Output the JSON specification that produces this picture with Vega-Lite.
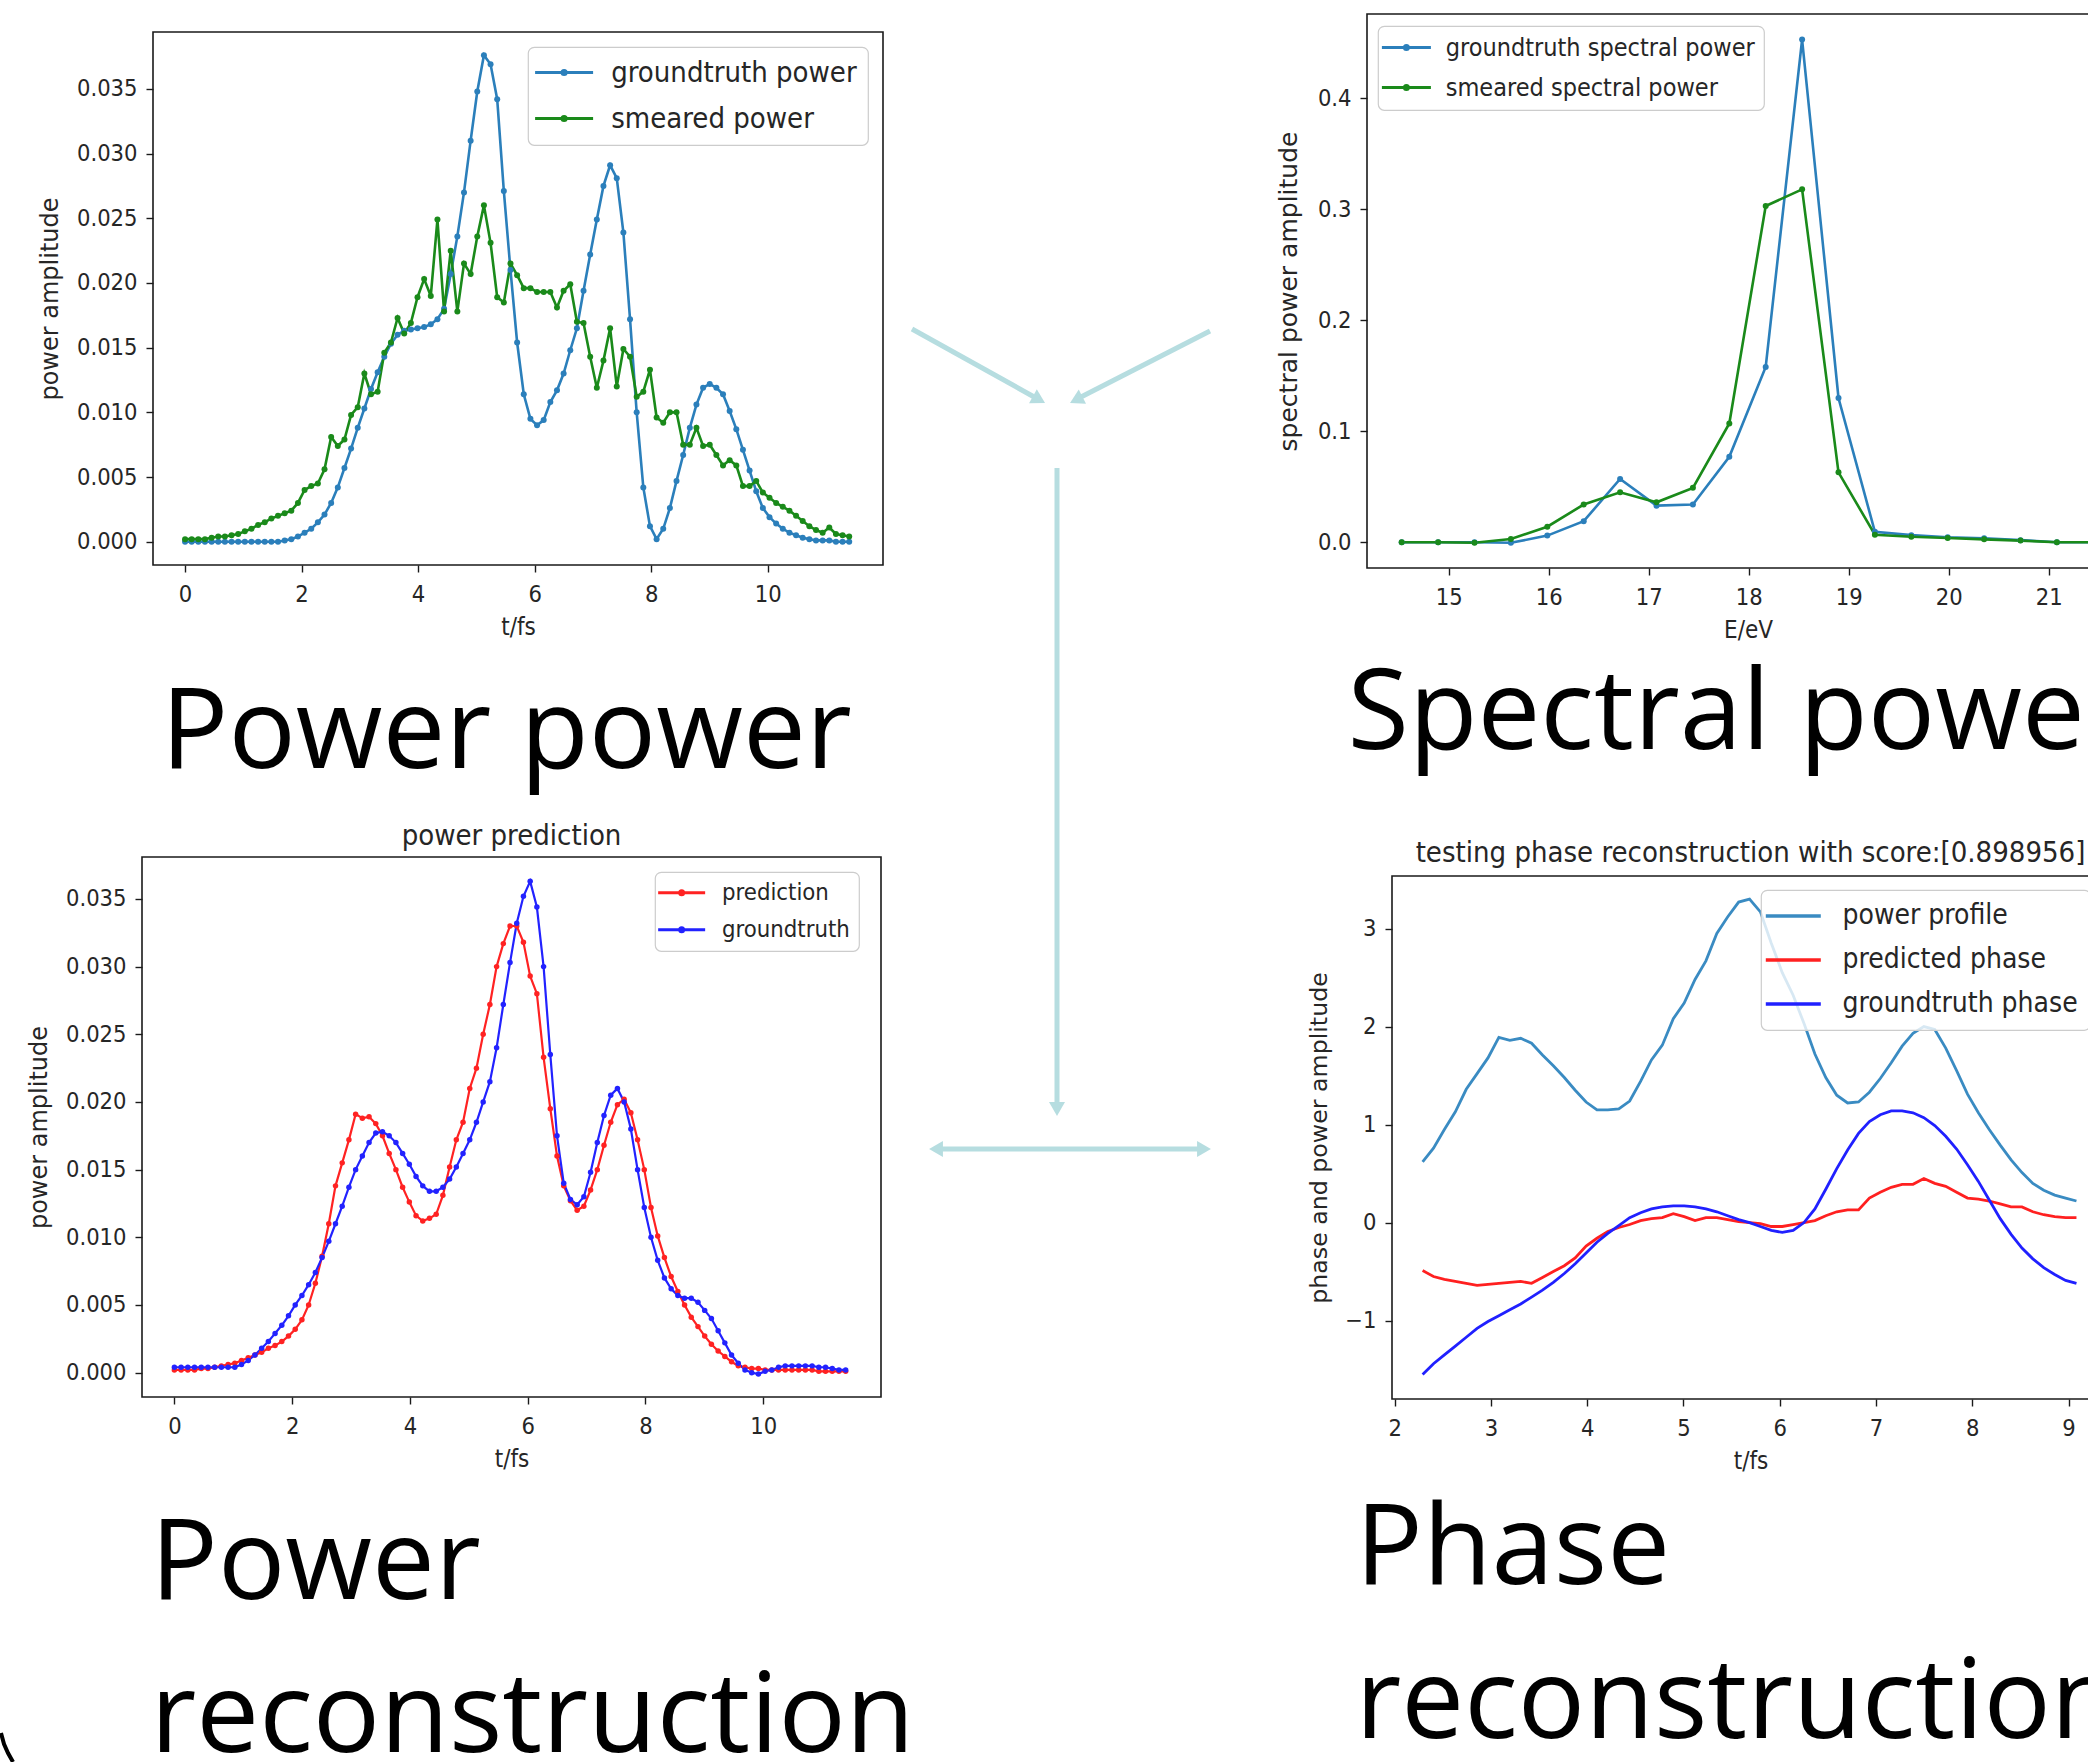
{
"$schema": "https://vega.github.io/schema/vega-lite/v6.json",
"background": "white",
"padding": 0,
"spacing": 0,
"bounds": "flush",
"config": {
  "view": {"stroke": "#1a1a1a", "strokeWidth": 1.6},
  "axis": {"domain": false, "grid": false, "tickColor": "#1a1a1a", "tickSize": 7, "tickWidth": 1.4, "labelFont": "DejaVu Sans Condensed, DejaVu Sans", "labelFontSize": 23.5, "labelColor": "#262626", "labelFlush": false, "labelOverlap": false, "titleFont": "DejaVu Sans", "titleFontSize": 24, "titleFontWeight": "normal", "titleColor": "#262626"},
  "axisX": {"labelPadding": 10, "titlePadding": 10, "titleFont": "DejaVu Sans Condensed, DejaVu Sans"},
  "axisY": {"labelPadding": 9, "titlePadding": 14},
  "legend": {"labelFont": "DejaVu Sans Condensed, DejaVu Sans", "labelColor": "#262626", "labelLimit": 800, "strokeColor": "#cccccc", "strokeWidth": 1.2, "fillColor": "rgba(255,255,255,0.8)", "cornerRadius": 6},
  "title": {"fontWeight": "normal", "color": "#000000"}
},
"datasets": {
  "pw": [
{"t":0,"groundtruth power":0,"smeared power":0.0002,"prediction":0.0002,"groundtruth":0.0004},
{"t":0.114,"groundtruth power":0,"smeared power":0.0002,"prediction":0.0002,"groundtruth":0.0004},
{"t":0.228,"groundtruth power":0,"smeared power":0.0002,"prediction":0.0002,"groundtruth":0.0004},
{"t":0.342,"groundtruth power":0,"smeared power":0.0002,"prediction":0.0002,"groundtruth":0.0004},
{"t":0.456,"groundtruth power":0,"smeared power":0.0003,"prediction":0.0003,"groundtruth":0.0004},
{"t":0.57,"groundtruth power":0,"smeared power":0.0004,"prediction":0.0003,"groundtruth":0.0004},
{"t":0.684,"groundtruth power":0,"smeared power":0.0004,"prediction":0.0004,"groundtruth":0.0004},
{"t":0.798,"groundtruth power":0,"smeared power":0.0005,"prediction":0.0005,"groundtruth":0.0004},
{"t":0.912,"groundtruth power":0,"smeared power":0.0006,"prediction":0.0006,"groundtruth":0.0004},
{"t":1.026,"groundtruth power":0,"smeared power":0.0008,"prediction":0.0007,"groundtruth":0.0004},
{"t":1.14,"groundtruth power":0,"smeared power":0.001,"prediction":0.0009,"groundtruth":0.0006},
{"t":1.254,"groundtruth power":0,"smeared power":0.0013,"prediction":0.0011,"groundtruth":0.0009},
{"t":1.368,"groundtruth power":0,"smeared power":0.0015,"prediction":0.0013,"groundtruth":0.0013},
{"t":1.482,"groundtruth power":0,"smeared power":0.0018,"prediction":0.0015,"groundtruth":0.0018},
{"t":1.596,"groundtruth power":0,"smeared power":0.002,"prediction":0.0018,"groundtruth":0.0023},
{"t":1.71,"groundtruth power":0.0001,"smeared power":0.0022,"prediction":0.002,"groundtruth":0.0029},
{"t":1.824,"groundtruth power":0.0002,"smeared power":0.0024,"prediction":0.0023,"groundtruth":0.0035},
{"t":1.938,"groundtruth power":0.0004,"smeared power":0.003,"prediction":0.0027,"groundtruth":0.0042},
{"t":2.052,"groundtruth power":0.0007,"smeared power":0.004,"prediction":0.0032,"groundtruth":0.005},
{"t":2.166,"groundtruth power":0.001,"smeared power":0.0043,"prediction":0.0039,"groundtruth":0.0057},
{"t":2.28,"groundtruth power":0.0015,"smeared power":0.0045,"prediction":0.005,"groundtruth":0.0065},
{"t":2.394,"groundtruth power":0.0021,"smeared power":0.0056,"prediction":0.0066,"groundtruth":0.0074},
{"t":2.508,"groundtruth power":0.003,"smeared power":0.0081,"prediction":0.0086,"groundtruth":0.0085},
{"t":2.622,"groundtruth power":0.0042,"smeared power":0.0074,"prediction":0.011,"groundtruth":0.0097},
{"t":2.736,"groundtruth power":0.0057,"smeared power":0.0079,"prediction":0.0138,"groundtruth":0.011},
{"t":2.85,"groundtruth power":0.0072,"smeared power":0.0098,"prediction":0.0155,"groundtruth":0.0123},
{"t":2.964,"groundtruth power":0.0088,"smeared power":0.0104,"prediction":0.0172,"groundtruth":0.0137},
{"t":3.078,"groundtruth power":0.0103,"smeared power":0.013,"prediction":0.0191,"groundtruth":0.015},
{"t":3.192,"groundtruth power":0.0118,"smeared power":0.0114,"prediction":0.0188,"groundtruth":0.016},
{"t":3.306,"groundtruth power":0.0131,"smeared power":0.0116,"prediction":0.0189,"groundtruth":0.017},
{"t":3.42,"groundtruth power":0.0143,"smeared power":0.0146,"prediction":0.0184,"groundtruth":0.0177},
{"t":3.534,"groundtruth power":0.0153,"smeared power":0.0154,"prediction":0.0175,"groundtruth":0.0178},
{"t":3.648,"groundtruth power":0.016,"smeared power":0.0173,"prediction":0.0162,"groundtruth":0.0175},
{"t":3.762,"groundtruth power":0.0163,"smeared power":0.0161,"prediction":0.015,"groundtruth":0.017},
{"t":3.876,"groundtruth power":0.0164,"smeared power":0.0169,"prediction":0.0137,"groundtruth":0.0162},
{"t":3.99,"groundtruth power":0.0165,"smeared power":0.0189,"prediction":0.0126,"groundtruth":0.0154},
{"t":4.104,"groundtruth power":0.0166,"smeared power":0.0203,"prediction":0.0116,"groundtruth":0.0145},
{"t":4.218,"groundtruth power":0.0168,"smeared power":0.019,"prediction":0.0112,"groundtruth":0.0138},
{"t":4.332,"groundtruth power":0.0172,"smeared power":0.0249,"prediction":0.0114,"groundtruth":0.0134},
{"t":4.446,"groundtruth power":0.018,"smeared power":0.0178,"prediction":0.0117,"groundtruth":0.0134},
{"t":4.56,"groundtruth power":0.0207,"smeared power":0.0225,"prediction":0.0131,"groundtruth":0.0137},
{"t":4.674,"groundtruth power":0.0236,"smeared power":0.0178,"prediction":0.0152,"groundtruth":0.0143},
{"t":4.788,"groundtruth power":0.027,"smeared power":0.0215,"prediction":0.0172,"groundtruth":0.0152},
{"t":4.902,"groundtruth power":0.031,"smeared power":0.0207,"prediction":0.0185,"groundtruth":0.0162},
{"t":5.016,"groundtruth power":0.0348,"smeared power":0.0236,"prediction":0.021,"groundtruth":0.0172},
{"t":5.13,"groundtruth power":0.0376,"smeared power":0.026,"prediction":0.0225,"groundtruth":0.0185},
{"t":5.244,"groundtruth power":0.0369,"smeared power":0.0231,"prediction":0.025,"groundtruth":0.02},
{"t":5.358,"groundtruth power":0.0342,"smeared power":0.0189,"prediction":0.0272,"groundtruth":0.0215},
{"t":5.472,"groundtruth power":0.0271,"smeared power":0.0185,"prediction":0.03,"groundtruth":0.024},
{"t":5.586,"groundtruth power":0.021,"smeared power":0.0215,"prediction":0.0317,"groundtruth":0.0272},
{"t":5.7,"groundtruth power":0.0154,"smeared power":0.0206,"prediction":0.033,"groundtruth":0.0303},
{"t":5.814,"groundtruth power":0.0114,"smeared power":0.0196,"prediction":0.033,"groundtruth":0.0332},
{"t":5.928,"groundtruth power":0.0095,"smeared power":0.0196,"prediction":0.0318,"groundtruth":0.0352},
{"t":6.042,"groundtruth power":0.009,"smeared power":0.0193,"prediction":0.0293,"groundtruth":0.0363},
{"t":6.156,"groundtruth power":0.0094,"smeared power":0.0193,"prediction":0.028,"groundtruth":0.0344},
{"t":6.27,"groundtruth power":0.0108,"smeared power":0.0193,"prediction":0.0233,"groundtruth":0.03},
{"t":6.384,"groundtruth power":0.0117,"smeared power":0.0181,"prediction":0.0195,"groundtruth":0.0235},
{"t":6.498,"groundtruth power":0.013,"smeared power":0.0194,"prediction":0.016,"groundtruth":0.0175},
{"t":6.612,"groundtruth power":0.0148,"smeared power":0.0199,"prediction":0.0138,"groundtruth":0.014},
{"t":6.726,"groundtruth power":0.0165,"smeared power":0.017,"prediction":0.0127,"groundtruth":0.0128},
{"t":6.84,"groundtruth power":0.0194,"smeared power":0.0169,"prediction":0.012,"groundtruth":0.0124},
{"t":6.954,"groundtruth power":0.0222,"smeared power":0.0143,"prediction":0.0123,"groundtruth":0.013},
{"t":7.068,"groundtruth power":0.0249,"smeared power":0.0119,"prediction":0.0135,"groundtruth":0.0148},
{"t":7.182,"groundtruth power":0.0275,"smeared power":0.014,"prediction":0.015,"groundtruth":0.017},
{"t":7.296,"groundtruth power":0.0291,"smeared power":0.0165,"prediction":0.0168,"groundtruth":0.019},
{"t":7.41,"groundtruth power":0.0281,"smeared power":0.012,"prediction":0.0185,"groundtruth":0.0205},
{"t":7.524,"groundtruth power":0.0239,"smeared power":0.0149,"prediction":0.0198,"groundtruth":0.021},
{"t":7.638,"groundtruth power":0.0172,"smeared power":0.0143,"prediction":0.0202,"groundtruth":0.02},
{"t":7.752,"groundtruth power":0.01,"smeared power":0.0112,"prediction":0.0192,"groundtruth":0.018},
{"t":7.866,"groundtruth power":0.0042,"smeared power":0.0116,"prediction":0.0172,"groundtruth":0.015},
{"t":7.98,"groundtruth power":0.0012,"smeared power":0.0133,"prediction":0.015,"groundtruth":0.0122},
{"t":8.094,"groundtruth power":0.0002,"smeared power":0.0096,"prediction":0.0122,"groundtruth":0.01},
{"t":8.208,"groundtruth power":0.001,"smeared power":0.0092,"prediction":0.0101,"groundtruth":0.0083},
{"t":8.322,"groundtruth power":0.0026,"smeared power":0.01,"prediction":0.0085,"groundtruth":0.007},
{"t":8.436,"groundtruth power":0.0047,"smeared power":0.01,"prediction":0.0071,"groundtruth":0.0062},
{"t":8.55,"groundtruth power":0.0067,"smeared power":0.0075,"prediction":0.006,"groundtruth":0.0057},
{"t":8.664,"groundtruth power":0.0088,"smeared power":0.0075,"prediction":0.005,"groundtruth":0.0055},
{"t":8.778,"groundtruth power":0.0106,"smeared power":0.0088,"prediction":0.0041,"groundtruth":0.0055},
{"t":8.892,"groundtruth power":0.0119,"smeared power":0.0074,"prediction":0.0034,"groundtruth":0.0052},
{"t":9.006,"groundtruth power":0.0122,"smeared power":0.0075,"prediction":0.0027,"groundtruth":0.0046},
{"t":9.12,"groundtruth power":0.0119,"smeared power":0.0067,"prediction":0.0021,"groundtruth":0.004},
{"t":9.234,"groundtruth power":0.0114,"smeared power":0.0059,"prediction":0.0016,"groundtruth":0.0031},
{"t":9.348,"groundtruth power":0.0101,"smeared power":0.0063,"prediction":0.0012,"groundtruth":0.0022},
{"t":9.462,"groundtruth power":0.0087,"smeared power":0.0059,"prediction":0.0008,"groundtruth":0.0013},
{"t":9.576,"groundtruth power":0.0071,"smeared power":0.0043,"prediction":0.0005,"groundtruth":0.0007},
{"t":9.69,"groundtruth power":0.0055,"smeared power":0.0043,"prediction":0.0004,"groundtruth":0.0002},
{"t":9.804,"groundtruth power":0.0039,"smeared power":0.0047,"prediction":0.0003,"groundtruth":0},
{"t":9.918,"groundtruth power":0.0026,"smeared power":0.0038,"prediction":0.0003,"groundtruth":-0.0001},
{"t":10.032,"groundtruth power":0.0019,"smeared power":0.0034,"prediction":0.0002,"groundtruth":0.0001},
{"t":10.146,"groundtruth power":0.0014,"smeared power":0.003,"prediction":0.0002,"groundtruth":0.0002},
{"t":10.26,"groundtruth power":0.001,"smeared power":0.0027,"prediction":0.0002,"groundtruth":0.0004},
{"t":10.374,"groundtruth power":0.0007,"smeared power":0.0024,"prediction":0.0002,"groundtruth":0.0005},
{"t":10.488,"groundtruth power":0.0005,"smeared power":0.002,"prediction":0.0002,"groundtruth":0.0005},
{"t":10.602,"groundtruth power":0.0003,"smeared power":0.0016,"prediction":0.0002,"groundtruth":0.0005},
{"t":10.716,"groundtruth power":0.0002,"smeared power":0.0012,"prediction":0.0002,"groundtruth":0.0005},
{"t":10.83,"groundtruth power":0.0001,"smeared power":0.0009,"prediction":0.0002,"groundtruth":0.0005},
{"t":10.944,"groundtruth power":0.0001,"smeared power":0.0007,"prediction":0.0001,"groundtruth":0.0004},
{"t":11.058,"groundtruth power":0.0001,"smeared power":0.0011,"prediction":0.0001,"groundtruth":0.0004},
{"t":11.172,"groundtruth power":0,"smeared power":0.0006,"prediction":0.0001,"groundtruth":0.0003},
{"t":11.286,"groundtruth power":0,"smeared power":0.0005,"prediction":0.0001,"groundtruth":0.0002},
{"t":11.4,"groundtruth power":0,"smeared power":0.0004,"prediction":0.0001,"groundtruth":0.0002}
  ],
  "sp": [
{"E":14.53,"groundtruth spectral power":0,"smeared spectral power":0},
{"E":14.894,"groundtruth spectral power":0,"smeared spectral power":0},
{"E":15.258,"groundtruth spectral power":0,"smeared spectral power":-0.0005},
{"E":15.622,"groundtruth spectral power":-0.0005,"smeared spectral power":0.003},
{"E":15.986,"groundtruth spectral power":0.006,"smeared spectral power":0.014},
{"E":16.35,"groundtruth spectral power":0.019,"smeared spectral power":0.034},
{"E":16.714,"groundtruth spectral power":0.057,"smeared spectral power":0.045},
{"E":17.078,"groundtruth spectral power":0.033,"smeared spectral power":0.036},
{"E":17.442,"groundtruth spectral power":0.034,"smeared spectral power":0.049},
{"E":17.806,"groundtruth spectral power":0.077,"smeared spectral power":0.107},
{"E":18.17,"groundtruth spectral power":0.158,"smeared spectral power":0.303},
{"E":18.534,"groundtruth spectral power":0.453,"smeared spectral power":0.318},
{"E":18.898,"groundtruth spectral power":0.13,"smeared spectral power":0.063},
{"E":19.262,"groundtruth spectral power":0.0094,"smeared spectral power":0.0068},
{"E":19.626,"groundtruth spectral power":0.0064,"smeared spectral power":0.005},
{"E":19.99,"groundtruth spectral power":0.0045,"smeared spectral power":0.0038},
{"E":20.354,"groundtruth spectral power":0.0036,"smeared spectral power":0.0026},
{"E":20.718,"groundtruth spectral power":0.0019,"smeared spectral power":0.0015},
{"E":21.082,"groundtruth spectral power":0,"smeared spectral power":0},
{"E":21.446,"groundtruth spectral power":0,"smeared spectral power":0}
  ],
  "ph": [
{"t":2.29,"power profile":0.62,"predicted phase":-0.49,"groundtruth phase":-1.55},
{"t":2.403,"power profile":0.76,"predicted phase":-0.55,"groundtruth phase":-1.44},
{"t":2.516,"power profile":0.95,"predicted phase":-0.58,"groundtruth phase":-1.35},
{"t":2.63,"power profile":1.13,"predicted phase":-0.6,"groundtruth phase":-1.26},
{"t":2.743,"power profile":1.36,"predicted phase":-0.62,"groundtruth phase":-1.17},
{"t":2.856,"power profile":1.52,"predicted phase":-0.64,"groundtruth phase":-1.08},
{"t":2.969,"power profile":1.68,"predicted phase":-0.63,"groundtruth phase":-1.01},
{"t":3.082,"power profile":1.89,"predicted phase":-0.62,"groundtruth phase":-0.95},
{"t":3.196,"power profile":1.86,"predicted phase":-0.61,"groundtruth phase":-0.89},
{"t":3.309,"power profile":1.88,"predicted phase":-0.6,"groundtruth phase":-0.83},
{"t":3.422,"power profile":1.83,"predicted phase":-0.62,"groundtruth phase":-0.76},
{"t":3.535,"power profile":1.71,"predicted phase":-0.56,"groundtruth phase":-0.69},
{"t":3.648,"power profile":1.6,"predicted phase":-0.5,"groundtruth phase":-0.61},
{"t":3.762,"power profile":1.48,"predicted phase":-0.44,"groundtruth phase":-0.52},
{"t":3.875,"power profile":1.35,"predicted phase":-0.36,"groundtruth phase":-0.42},
{"t":3.988,"power profile":1.23,"predicted phase":-0.24,"groundtruth phase":-0.31},
{"t":4.101,"power profile":1.15,"predicted phase":-0.16,"groundtruth phase":-0.2},
{"t":4.214,"power profile":1.15,"predicted phase":-0.09,"groundtruth phase":-0.11},
{"t":4.328,"power profile":1.16,"predicted phase":-0.05,"groundtruth phase":-0.03},
{"t":4.441,"power profile":1.24,"predicted phase":-0.02,"groundtruth phase":0.05},
{"t":4.554,"power profile":1.44,"predicted phase":0.02,"groundtruth phase":0.1},
{"t":4.667,"power profile":1.66,"predicted phase":0.04,"groundtruth phase":0.14},
{"t":4.78,"power profile":1.81,"predicted phase":0.05,"groundtruth phase":0.16},
{"t":4.894,"power profile":2.08,"predicted phase":0.09,"groundtruth phase":0.17},
{"t":5.007,"power profile":2.24,"predicted phase":0.06,"groundtruth phase":0.17},
{"t":5.12,"power profile":2.48,"predicted phase":0.02,"groundtruth phase":0.16},
{"t":5.233,"power profile":2.67,"predicted phase":0.05,"groundtruth phase":0.14},
{"t":5.346,"power profile":2.95,"predicted phase":0.05,"groundtruth phase":0.11},
{"t":5.46,"power profile":3.12,"predicted phase":0.03,"groundtruth phase":0.07},
{"t":5.573,"power profile":3.27,"predicted phase":0.01,"groundtruth phase":0.03},
{"t":5.686,"power profile":3.3,"predicted phase":0,"groundtruth phase":0},
{"t":5.799,"power profile":3.17,"predicted phase":-0.01,"groundtruth phase":-0.04},
{"t":5.912,"power profile":2.85,"predicted phase":-0.04,"groundtruth phase":-0.08},
{"t":6.026,"power profile":2.55,"predicted phase":-0.04,"groundtruth phase":-0.1},
{"t":6.139,"power profile":2.32,"predicted phase":-0.02,"groundtruth phase":-0.08},
{"t":6.252,"power profile":2.03,"predicted phase":0,"groundtruth phase":0},
{"t":6.365,"power profile":1.72,"predicted phase":0.02,"groundtruth phase":0.14},
{"t":6.478,"power profile":1.48,"predicted phase":0.07,"groundtruth phase":0.34},
{"t":6.592,"power profile":1.3,"predicted phase":0.11,"groundtruth phase":0.55},
{"t":6.705,"power profile":1.22,"predicted phase":0.13,"groundtruth phase":0.74},
{"t":6.818,"power profile":1.23,"predicted phase":0.13,"groundtruth phase":0.91},
{"t":6.931,"power profile":1.33,"predicted phase":0.25,"groundtruth phase":1.03},
{"t":7.044,"power profile":1.47,"predicted phase":0.31,"groundtruth phase":1.1},
{"t":7.158,"power profile":1.63,"predicted phase":0.36,"groundtruth phase":1.14},
{"t":7.271,"power profile":1.8,"predicted phase":0.39,"groundtruth phase":1.14},
{"t":7.384,"power profile":1.93,"predicted phase":0.39,"groundtruth phase":1.12},
{"t":7.497,"power profile":2,"predicted phase":0.45,"groundtruth phase":1.07},
{"t":7.61,"power profile":1.97,"predicted phase":0.4,"groundtruth phase":0.99},
{"t":7.724,"power profile":1.78,"predicted phase":0.37,"groundtruth phase":0.88},
{"t":7.837,"power profile":1.55,"predicted phase":0.31,"groundtruth phase":0.75},
{"t":7.95,"power profile":1.31,"predicted phase":0.25,"groundtruth phase":0.59},
{"t":8.063,"power profile":1.12,"predicted phase":0.24,"groundtruth phase":0.42},
{"t":8.176,"power profile":0.95,"predicted phase":0.22,"groundtruth phase":0.23},
{"t":8.29,"power profile":0.79,"predicted phase":0.19,"groundtruth phase":0.04},
{"t":8.403,"power profile":0.64,"predicted phase":0.16,"groundtruth phase":-0.12},
{"t":8.516,"power profile":0.51,"predicted phase":0.16,"groundtruth phase":-0.26},
{"t":8.629,"power profile":0.4,"predicted phase":0.11,"groundtruth phase":-0.37},
{"t":8.742,"power profile":0.33,"predicted phase":0.08,"groundtruth phase":-0.46},
{"t":8.856,"power profile":0.28,"predicted phase":0.06,"groundtruth phase":-0.53},
{"t":8.969,"power profile":0.25,"predicted phase":0.05,"groundtruth phase":-0.59},
{"t":9.082,"power profile":0.22,"predicted phase":0.05,"groundtruth phase":-0.62}
  ]
},
"resolve": {"scale": {"color": "independent"}, "legend": {"color": "independent"}},
"hconcat": [
  {"width": 142, "height": 1762, "view": {"stroke": null},
   "data": {"values": [{"ax": 1, "ay": 1733}, {"ax": 4, "ay": 1744}, {"ax": 8, "ay": 1753}, {"ax": 13, "ay": 1762}]},
   "mark": {"type": "line", "color": "#000000", "strokeWidth": 4, "clip": true},
   "encoding": {
     "x": {"field": "ax", "type": "quantitative", "scale": {"domain": [0, 142], "nice": false, "zero": false}, "axis": null},
     "y": {"field": "ay", "type": "quantitative", "scale": {"domain": [0, 1762], "nice": false, "zero": false, "reverse": true}, "axis": null}
   }},
  {"spacing": 0, "bounds": "flush",
   "resolve": {"scale": {"color": "independent"}, "legend": {"color": "independent"}},
   "vconcat": [
     {"width": 1, "height": 32, "view": {"stroke": null}, "data": {"values": []}, "mark": "point"},
     {"spacing": 0, "bounds": "flush",
      "resolve": {"scale": {"color": "independent"}, "legend": {"color": "independent"}},
      "hconcat": [
        {"width": 11, "height": 533, "view": {"stroke": null}, "data": {"values": []}, "mark": "point"},
        {"width": 730, "height": 533,
         "data": {"name": "pw"},
         "transform": [{"fold": ["groundtruth power", "smeared power"], "as": ["series", "value"]}],
         "title": {"text": "Power power", "orient": "bottom", "anchor": "start", "frame": "group", "font": "Open Sans", "fontSize": 112, "fontWeight": "normal", "color": "#000000", "offset": 40, "dx": 8},
         "encoding": {
           "x": {"field": "t", "type": "quantitative", "scale": {"domain": [-0.55, 11.98], "nice": false, "zero": false}, "axis": {"values": [0, 2, 4, 6, 8, 10], "title": "t/fs"}},
           "y": {"field": "value", "type": "quantitative", "scale": {"domain": [-0.0018, 0.0394], "nice": false, "zero": false}, "axis": {"values": [0, 0.005, 0.01, 0.015, 0.02, 0.025, 0.03, 0.035], "format": ".3f", "title": "power amplitude"}},
           "color": {"field": "series", "type": "nominal",
             "scale": {"domain": ["groundtruth power", "smeared power"], "range": ["#2b7fbb", "#1a8a1a"]},
             "legend": {"title": null, "orient": "none", "legendX": 375, "legendY": 15, "padding": 11,
               "symbolType": "M-2.9,0H2.9M0.2,0A0.2,0.2,0,1,1,-0.2,0A0.2,0.2,0,1,1,0.2,0",
               "symbolSize": 400, "symbolStrokeWidth": 3.2, "symbolOffset": 10.6, "labelOffset": 32.6, "labelFontSize": 29, "rowPadding": 16}}
         },
         "layer": [
           {"mark": {"type": "line", "strokeWidth": 2.6}},
           {"mark": {"type": "point", "filled": true, "size": 36, "opacity": 1}}
         ]}
      ]},
     {"width": 1, "height": 825, "view": {"stroke": null}, "data": {"values": []}, "mark": "point"},
     {"spacing": 0, "bounds": "flush",
      "resolve": {"scale": {"color": "independent"}, "legend": {"color": "independent"}},
      "title": {"text": ["Power", "reconstruction"], "orient": "bottom", "anchor": "start", "frame": "group", "font": "Open Sans", "fontSize": 112, "fontWeight": "normal", "color": "#000000", "lineHeight": 153, "offset": 39, "dx": 8.5},
      "vconcat": [
        {"width": 739, "height": 540,
         "data": {"name": "pw"},
         "transform": [{"fold": ["prediction", "groundtruth"], "as": ["series", "value"]}],
         "title": {"text": "power prediction", "orient": "top", "anchor": "middle", "frame": "group", "font": "DejaVu Sans Condensed, DejaVu Sans", "fontSize": 29, "fontWeight": "normal", "color": "#262626", "offset": 6},
         "encoding": {
           "x": {"field": "t", "type": "quantitative", "scale": {"domain": [-0.55, 12.0], "nice": false, "zero": false}, "axis": {"values": [0, 2, 4, 6, 8, 10], "title": "t/fs"}},
           "y": {"field": "value", "type": "quantitative", "scale": {"domain": [-0.0018, 0.0381], "nice": false, "zero": false}, "axis": {"values": [0, 0.005, 0.01, 0.015, 0.02, 0.025, 0.03, 0.035], "format": ".3f", "title": "power amplitude"}},
           "color": {"field": "series", "type": "nominal",
             "scale": {"domain": ["prediction", "groundtruth"], "range": ["#ff2222", "#2222ff"]},
             "legend": {"title": null, "orient": "none", "legendX": 513, "legendY": 15, "padding": 9,
               "symbolType": "M-2.35,0H2.35M0.2,0A0.2,0.2,0,1,1,-0.2,0A0.2,0.2,0,1,1,0.2,0",
               "symbolSize": 400, "symbolStrokeWidth": 3, "symbolOffset": 5.8, "labelOffset": 28.5, "labelFontSize": 23.7, "rowPadding": 12}}
         },
         "layer": [
           {"mark": {"type": "line", "strokeWidth": 2.2}},
           {"mark": {"type": "point", "filled": true, "size": 30, "opacity": 1}}
         ]}
      ]}
   ]},
  {"width": 741, "height": 1, "view": {"stroke": null}, "data": {"values": []}, "mark": "point"},
  {"width": 484, "height": 1762, "view": {"stroke": null},
   "layer": [
     {"data": {"values": [
        {"x": 912, "y": 329, "x2": 1036, "y2": 398},
        {"x": 1210, "y": 331, "x2": 1079, "y2": 398},
        {"x": 1057, "y": 468, "x2": 1057, "y2": 1106},
        {"x": 939, "y": 1149, "x2": 1201, "y2": 1149}]},
      "mark": {"type": "rule", "color": "#b6dde0", "strokeWidth": 5},
      "encoding": {
        "x": {"field": "x", "type": "quantitative", "scale": {"domain": [883, 1367], "nice": false, "zero": false}, "axis": null},
        "y": {"field": "y", "type": "quantitative", "scale": {"domain": [0, 1762], "nice": false, "zero": false, "reverse": true}, "axis": null},
        "x2": {"field": "x2"},
        "y2": {"field": "y2"}
      }},
     {"data": {"values": [
        {"x": 1039, "y": 399.6, "a": 119},
        {"x": 1076.2, "y": 399.8, "a": 243},
        {"x": 1057, "y": 1109, "a": 180},
        {"x": 1204, "y": 1149, "a": 90},
        {"x": 936, "y": 1149, "a": 270}]},
      "mark": {"type": "point", "shape": "triangle-up", "filled": true, "color": "#b6dde0", "size": 256, "opacity": 1, "strokeWidth": 0},
      "encoding": {
        "x": {"field": "x", "type": "quantitative", "scale": {"domain": [883, 1367], "nice": false, "zero": false}, "axis": null},
        "y": {"field": "y", "type": "quantitative", "scale": {"domain": [0, 1762], "nice": false, "zero": false, "reverse": true}, "axis": null},
        "angle": {"field": "a", "type": "quantitative", "scale": null}
      }}
   ]},
  {"spacing": 0, "bounds": "flush",
   "resolve": {"scale": {"color": "independent"}, "legend": {"color": "independent"}},
   "vconcat": [
     {"width": 1, "height": 14, "view": {"stroke": null}, "data": {"values": []}, "mark": "point"},
     {"width": 762, "height": 554,
      "data": {"name": "sp"},
      "transform": [{"fold": ["groundtruth spectral power", "smeared spectral power"], "as": ["series", "value"]}],
      "title": {"text": "Spectral power", "orient": "bottom", "anchor": "start", "frame": "group", "font": "Open Sans", "fontSize": 112, "fontWeight": "normal", "color": "#000000", "offset": 18, "dx": -19.5},
      "encoding": {
        "x": {"field": "E", "type": "quantitative", "scale": {"domain": [14.183, 21.803], "nice": false, "zero": false}, "axis": {"values": [15, 16, 17, 18, 19, 20, 21], "title": "E/eV"}},
        "y": {"field": "value", "type": "quantitative", "scale": {"domain": [-0.0232, 0.476], "nice": false, "zero": false}, "axis": {"values": [0, 0.1, 0.2, 0.3, 0.4], "format": ".1f", "title": "spectral power amplitude", "titleFontSize": 25, "titlePadding": 16}},
        "color": {"field": "series", "type": "nominal",
          "scale": {"domain": ["groundtruth spectral power", "smeared spectral power"], "range": ["#2b7fbb", "#1a8a1a"]},
          "legend": {"title": null, "orient": "none", "legendX": 11, "legendY": 12, "padding": 9,
            "symbolType": "M-2.45,0H2.45M0.2,0A0.2,0.2,0,1,1,-0.2,0A0.2,0.2,0,1,1,0.2,0",
            "symbolSize": 400, "symbolStrokeWidth": 3, "symbolOffset": 6.9, "labelOffset": 26.8, "labelFontSize": 25, "rowPadding": 14}}
      },
      "layer": [
        {"mark": {"type": "line", "strokeWidth": 2.6}},
        {"mark": {"type": "point", "filled": true, "size": 36, "opacity": 1}}
      ]},
     {"width": 1, "height": 308, "view": {"stroke": null}, "data": {"values": []}, "mark": "point"},
     {"spacing": 0, "bounds": "flush",
      "resolve": {"scale": {"color": "independent"}, "legend": {"color": "independent"}},
      "title": {"text": ["Phase", "reconstruction"], "orient": "bottom", "anchor": "start", "frame": "group", "font": "Open Sans", "fontSize": 112, "fontWeight": "normal", "color": "#000000", "lineHeight": 154, "offset": 22, "dx": -11.5},
      "hconcat": [
        {"width": 25, "height": 523, "view": {"stroke": null}, "data": {"values": []}, "mark": "point"},
        {"width": 717, "height": 523,
         "data": {"name": "ph"},
         "transform": [{"fold": ["power profile", "predicted phase", "groundtruth phase"], "as": ["series", "value"]}],
         "title": {"text": "testing phase reconstruction with score:[0.898956]", "orient": "top", "anchor": "middle", "frame": "group", "font": "DejaVu Sans Condensed, DejaVu Sans", "fontSize": 29, "fontWeight": "normal", "color": "#262626", "offset": 8},
         "mark": {"type": "line", "strokeWidth": 2.8},
         "encoding": {
           "x": {"field": "t", "type": "quantitative", "scale": {"domain": [1.972, 9.42], "nice": false, "zero": false}, "axis": {"values": [2, 3, 4, 5, 6, 7, 8, 9], "title": "t/fs"}},
           "y": {"field": "value", "type": "quantitative", "scale": {"domain": [-1.8, 3.536], "nice": false, "zero": false}, "axis": {"values": [-1, 0, 1, 2, 3], "title": "phase and power amplitude", "titleFontSize": 23.7, "titlePadding": 13}},
           "color": {"field": "series", "type": "nominal",
             "scale": {"domain": ["power profile", "predicted phase", "groundtruth phase"], "range": ["#3a8bc2", "#ff2020", "#2020ff"]},
             "legend": {"title": null, "orient": "none", "legendX": 369, "legendY": 14, "padding": 12,
               "symbolType": "M-2.75,0H2.75", "symbolSize": 400, "symbolStrokeWidth": 3.5, "symbolOffset": 6.3, "labelOffset": 35.2, "labelFontSize": 28, "rowPadding": 16}}
         }}
      ]}
   ]}
]
}
